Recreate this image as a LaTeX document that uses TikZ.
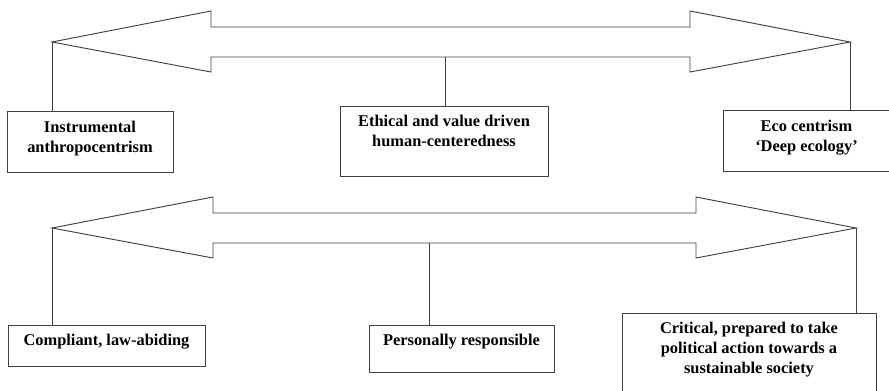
\documentclass[tikz,border=0pt]{standalone}
\usepackage{fontspec}
\setmainfont{Liberation Serif}
\tikzset{
	frame/.style={draw=black!75, line width=0.7pt},
	box/.style={frame, rectangle, inner sep=0pt},
	label/.style={anchor=north, inner sep=0pt, align=center, font=\bfseries\fontsize{12.3}{15}\selectfont}
}
\begin{document}
\begin{tikzpicture}[x=0.75pt, y=-0.75pt]
	\useasboundingbox (0,0) rectangle (889,390);
	\clip (0,0) rectangle (889,390);
	
	% block arrows
	\draw[frame] (52,42) -- (211,11) -- (211,27) -- (690,27) -- (690,11) -- (850,42)
		-- (690,72) -- (690,57) -- (211,57) -- (211,72) -- cycle;
	\draw[frame] (52,228) -- (213,197) -- (213,213) -- (696,213) -- (696,197) -- (856,228)
		-- (696,258) -- (696,243) -- (213,243) -- (213,258) -- cycle;
	\coordinate (tl) at (52,42);
	\coordinate (tm) at (445,57);
	\coordinate (tr) at (850,42);
	\coordinate (bl) at (52,228);
	\coordinate (bm) at (429,243);
	\coordinate (br) at (856,228);
	
	% boxes
	\node[box, minimum width=124.5pt, minimum height=45.75pt] (inst) at (90,141.5) {};
	\node[box, minimum width=156pt, minimum height=52.5pt] (ethic) at (444,141) {};
	\node[box, minimum width=125.25pt, minimum height=45.75pt] (eco) at (806.5,140.5) {};
	\node[box, minimum width=147.75pt, minimum height=30.75pt] (compl) at (106.5,345.5) {};
	\node[box, minimum width=138.75pt, minimum height=35.25pt] (pers) at (461.5,348.5) {};
	\node[box, minimum width=190.5pt, minimum height=61.5pt] (crit) at (749,354) {};
	
	\node[label] at ([yshift=-7.5pt]inst.north) {Instrumental\\anthropocentrism};
	\node[label] at ([yshift=-7pt]ethic.north) {Ethical and value driven\\human-centeredness};
	\node[label] at ([yshift=-7.5pt]eco.north) {Eco centrism\\`Deep ecology'};
	\node[label] at ([yshift=-7pt]compl.north) {Compliant, law-abiding};
	\node[label] at ([yshift=-7pt]pers.north) {Personally responsible};
	\node[label] at ([yshift=-7pt]crit.north) {Critical, prepared to take\\political action towards a\\sustainable society};
	
	% links
	\draw[frame] (tl) -- (tl |- inst.north);
	\draw[frame] (tm) -- (tm |- ethic.north);
	\draw[frame] (tr) -- (tr |- eco.north);
	\draw[frame] (bl) -- (bl |- compl.north);
	\draw[frame] (bm) -- (bm |- pers.north);
	\draw[frame] (br) -- (br |- crit.north);
\end{tikzpicture}
\end{document}
